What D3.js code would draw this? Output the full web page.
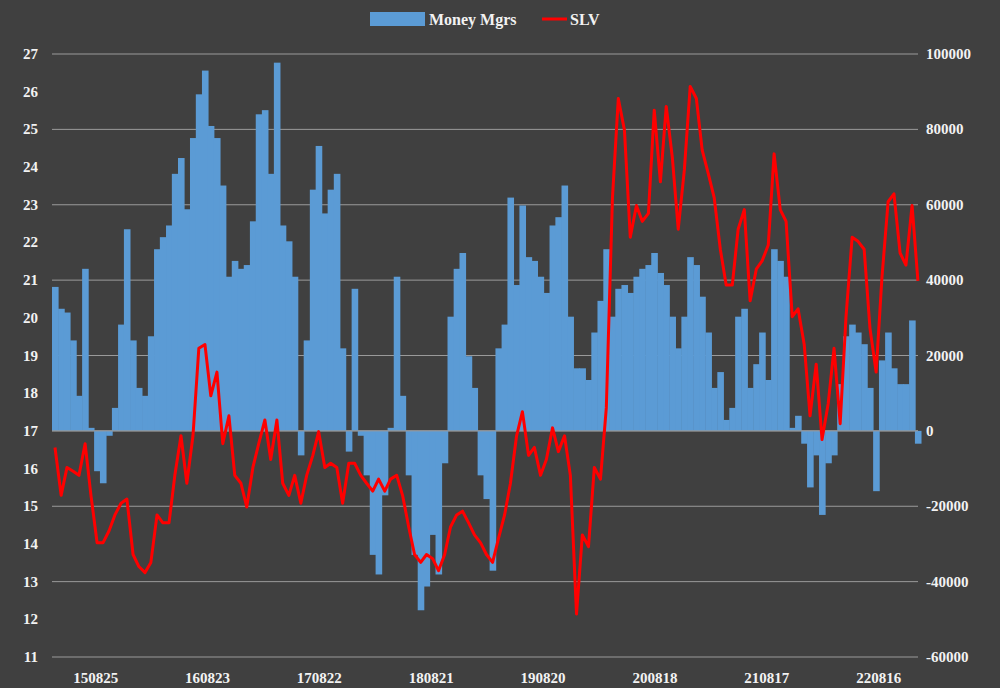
<!doctype html>
<html>
<head>
<script src="https://d3js.org/d3.v7.min.js"></script>
<style>
  body { margin: 0; background: #404040; }
  text { font-family: "Liberation Serif", serif; font-weight: bold; fill: #f2f2f2; }
</style>
</head>
<body>
<div id="chart"></div>
<script>
// Money managers net position (right axis), one value per sample
var moneyMgrs = [
  38200,32400,31400,24000,9300,43000,800,-10700,-13900,-1300,6100,28200,53500,24000,11400,9300,
  25100,48200,51400,54500,68200,72400,58800,77700,89300,95600,80900,77700,65100,40900,45100,43000,
  44000,55600,84000,85100,68200,97700,54500,50300,40900,-6500,24000,64000,75600,57700,64000,68200,
  21900,-5500,37700,-1300,-11800,-32900,-38100,-17100,800,40900,9300,-11800,-32900,-47600,-41300,-27600,
  -38100,-8600,30300,43000,47200,19800,11400,-11800,-18100,-37100,21900,28200,61900,38700,59800,46100,
  45100,40900,36600,54500,56700,65100,30300,16600,16600,13500,26100,34500,48200,30300,37700,
  38700,36600,40900,43000,44000,47200,41900,38700,30300,21900,30300,46100,44000,35600,26100,11400,
  15600,2900,6100,30300,32400,11400,17700,26100,13500,48200,45100,40900,800,4000,-3400,-15000,
  -6500,-22300,-8600,-6500,12400,25100,28200,26100,23000,11400,-16000,18700,26100,16600,12400,12400,
  29300,-3400
];
// SLV price (left axis)
var slv = [
  16.56,15.29,16.03,15.93,15.82,16.66,15.29,14.03,14.03,14.35,14.77,15.08,15.19,13.72,13.40,13.24,
  13.51,14.77,14.56,14.56,15.82,16.87,15.61,16.87,19.19,19.29,17.93,18.56,16.66,17.40,15.82,15.61,
  14.98,16.03,16.66,17.29,16.24,17.29,15.61,15.29,15.82,15.08,15.82,16.35,16.98,16.03,16.14,16.03,
  15.08,16.14,16.14,15.82,15.61,15.40,15.72,15.40,15.72,15.82,15.29,14.45,13.72,13.51,13.72,13.61,
  13.29,13.72,14.45,14.77,14.87,14.56,14.24,14.03,13.72,13.51,14.14,14.77,15.61,16.87,17.51,16.35,
  16.56,15.82,16.24,17.08,16.45,16.87,15.82,12.14,14.24,13.93,16.03,15.72,17.61,23.19,25.82,
  24.98,22.14,22.98,22.56,22.77,25.51,23.61,25.61,24.24,22.35,23.93,26.14,25.82,24.45,23.82,23.19,
  21.82,20.87,20.87,22.35,22.87,20.45,21.29,21.51,21.93,24.35,22.87,22.56,20.03,20.24,19.29,17.40,
  18.77,16.77,17.72,19.19,17.19,20.03,22.14,22.03,21.82,19.72,18.56,21.08,23.08,23.29,21.72,21.40,
  22.98,20.98
];
var startDate = new Date(2015, 3, 5);
var stepDays = 19.5;
var tickLabels = ["150825","160823","170822","180821","190820","200818","210817","220816"];
var leftTicks = d3.range(11, 28);
var rightTicks = [-60000,-40000,-20000,0,20000,40000,60000,80000,100000];

var W = 1000, H = 688;
var m = { left: 52, right: 82, top: 54, bottom: 31 };

var svg = d3.select("#chart").append("svg").attr("width", W).attr("height", H);
svg.append("rect").attr("width", W).attr("height", H).attr("fill", "#404040");

var parse = d3.timeParse("%y%m%d");
var dates = slv.map(function(d, i){ return d3.timeDay.offset(startDate, Math.round(i * stepDays)); });
var step = (W - m.left - m.right) / (slv.length - 0.5);

var x = d3.scaleTime()
  .domain([startDate, d3.timeDay.offset(startDate, Math.round((slv.length - 0.5) * stepDays))])
  .range([m.left, W - m.right]);
var yL = d3.scaleLinear().domain([11, 27]).range([H - m.bottom, m.top]);
var yR = d3.scaleLinear().domain([-60000, 100000]).range([H - m.bottom, m.top]);

// gridlines
svg.append("g").selectAll("line").data(rightTicks).enter().append("line")
  .attr("x1", m.left).attr("x2", W - m.right)
  .attr("y1", function(d){ return yR(d); }).attr("y2", function(d){ return yR(d); })
  .attr("stroke", "#9a9a9a").attr("stroke-width", 1);

// bars
svg.append("g").selectAll("rect").data(moneyMgrs).enter().append("rect")
  .attr("x", function(d, i){ return x(dates[i]); })
  .attr("width", step + 0.6)
  .attr("y", function(d){ return yR(Math.max(0, d)); })
  .attr("height", function(d){ return Math.abs(yR(d) - yR(0)); })
  .attr("fill", "#5b9bd5");

// baseline
svg.append("line").attr("x1", m.left).attr("x2", W - m.right)
  .attr("y1", yR(0)).attr("y2", yR(0)).attr("stroke", "#9a9a9a");

// SLV line
var line = d3.line()
  .x(function(d, i){ return x(dates[i]) + step / 2; })
  .y(function(d){ return yL(d); });
svg.append("path").datum(slv).attr("d", line)
  .attr("fill", "none").attr("stroke", "#ff0000").attr("stroke-width", 3)
  .attr("stroke-linejoin", "round");

// axes labels
svg.append("g").selectAll("text").data(leftTicks).enter().append("text")
  .attr("x", 38).attr("y", function(d){ return yL(d) + 5; })
  .attr("text-anchor", "end").attr("font-size", 15).text(function(d){ return d; });
svg.append("g").selectAll("text").data(rightTicks).enter().append("text")
  .attr("x", 926).attr("y", function(d){ return yR(d) + 5; })
  .attr("font-size", 15).text(function(d){ return d; });
svg.append("g").selectAll("text").data(tickLabels).enter().append("text")
  .attr("x", function(d){ return x(parse(d)); }).attr("y", 683)
  .attr("text-anchor", "middle").attr("font-size", 15).text(function(d){ return d; });

// legend
var lg = svg.append("g");
lg.append("rect").attr("x", 370).attr("y", 12).attr("width", 55).attr("height", 14).attr("fill", "#5b9bd5");
lg.append("text").attr("x", 429).attr("y", 25).attr("font-size", 16).text("Money Mgrs");
lg.append("line").attr("x1", 542).attr("x2", 567).attr("y1", 19).attr("y2", 19)
  .attr("stroke", "#ff0000").attr("stroke-width", 3);
lg.append("text").attr("x", 570).attr("y", 25).attr("font-size", 16).text("SLV");
</script>
</body>
</html>
